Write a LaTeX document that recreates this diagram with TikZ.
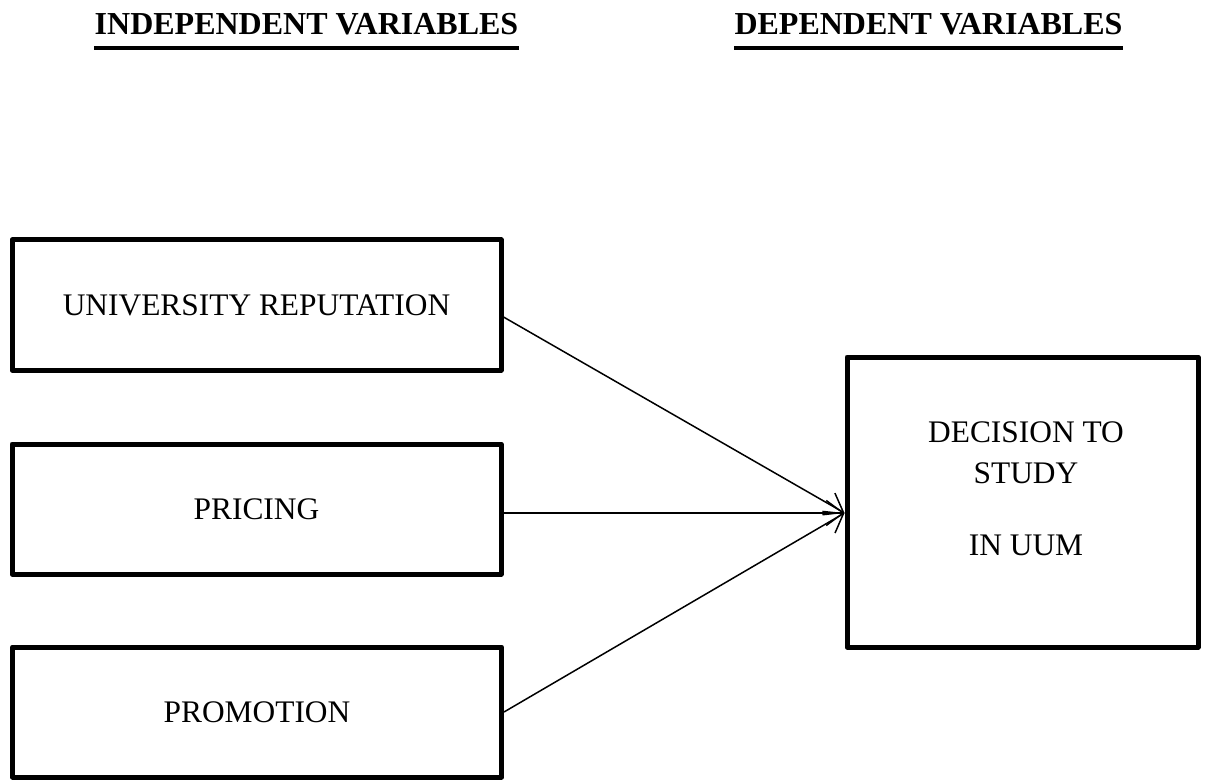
\documentclass[tikz,border=0pt]{standalone}
\usepackage{fontspec}
\setmainfont{Liberation Serif}
\usetikzlibrary{arrows.meta}

\begin{document}
\begin{tikzpicture}[x=0.5pt, y=-0.5pt, line join=round,
    varbox/.style={draw, line width=2.5pt, minimum width=244.5pt, minimum height=65pt, inner sep=0pt, font=\fontsize{15.7}{20.5}\selectfont},
    head/.style={inner sep=0pt, anchor=base, font=\fontsize{16}{19}\selectfont\bfseries},
    link/.style={line width=0.75pt, -{Straight Barb[length=8.5pt,width=12.5pt]}}]
    \useasboundingbox (0,0) rectangle (1213,780);

    \node[head] (indep) at (306.5,35) {INDEPENDENT VARIABLES};
    \node[head] (dep) at (928.5,35) {DEPENDENT VARIABLES};
    \draw[line width=1.75pt] ([yshift=-6.5pt]indep.base west) -- ([yshift=-6.5pt]indep.base east);
    \draw[line width=1.75pt] ([yshift=-6.5pt]dep.base west) -- ([yshift=-6.5pt]dep.base east);

    \node[varbox] (reputation) at (256.5,305) {UNIVERSITY REPUTATION};
    \node[varbox] (pricing) at (256.5,509) {PRICING};
    \node[varbox] (promotion) at (257,712) {PROMOTION};

    \node[varbox, minimum width=175.5pt, minimum height=145pt] (decision) at (1022.5,502) {};
    \node[align=center, inner sep=0pt, font=\fontsize{15.7}{20.5}\selectfont] (decisiontext) at (1026,488.5) {DECISION TO\\STUDY\\[15.5pt]IN UUM};

    %% all three meet at one point on the left side
    \coordinate (tip) at ([yshift=-5.5pt]decision.west);
    \draw[link] ([yshift=-6pt]reputation.east) -- (tip);
    \draw[link] ([yshift=-2pt]pricing.east) -- (tip);
    \draw[link] (promotion.east) -- (tip);
\end{tikzpicture}
\end{document}
